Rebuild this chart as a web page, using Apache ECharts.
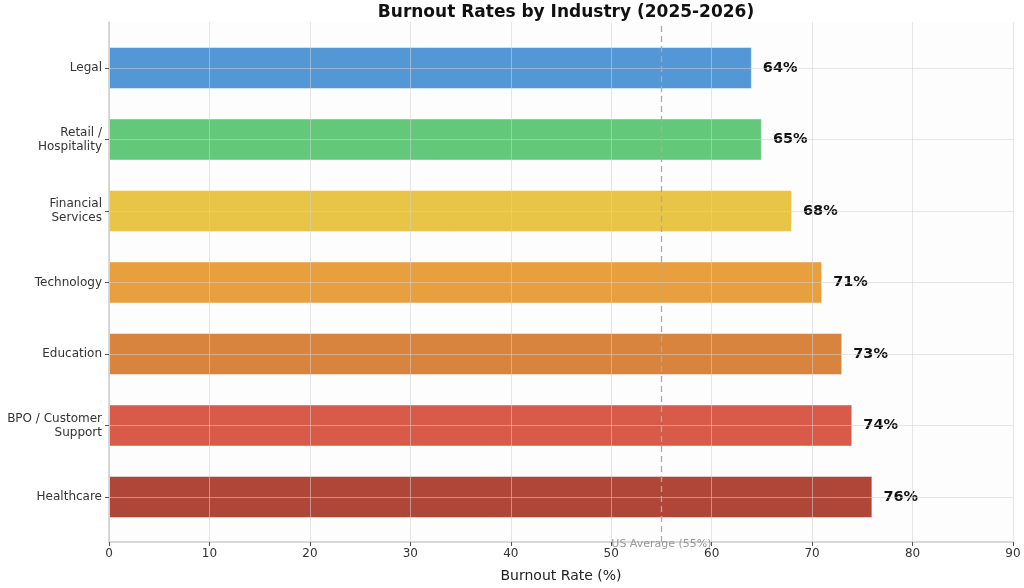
<!DOCTYPE html>
<html>
<head>
<meta charset="utf-8">
<script src="https://cdn.jsdelivr.net/npm/echarts@6/dist/echarts.min.js"></script>
<style>html,body{margin:0;padding:0;background:#fff}#c{width:1024px;height:588px}</style>
</head>
<body>
<div id="c"></div>
<script>
const categories = ['Legal', 'Retail /\nHospitality', 'Financial\nServices', 'Technology', 'Education', 'BPO / Customer\nSupport', 'Healthcare'];
const rates = [64, 65, 68, 71, 73, 74, 76];
const barColors = ['#5397d6', '#64c87a', '#e8c547', '#e8a03f', '#d8843e', '#d85b4a', '#b04638'];
const usAverage = 55;
const xTicks = [0, 10, 20, 30, 40, 50, 60, 70, 80, 90];

const font = 'DejaVu Sans';
const gridColor = 'rgba(210,210,210,0.55)';
const chart = echarts.init(document.getElementById('c'));
chart.setOption({
  backgroundColor: '#fff',
  animation: false,
  textStyle: { fontFamily: font },
  title: {
    text: 'Burnout Rates by Industry (2025-2026)',
    left: 561, top: -1, textAlign: 'center',
    textStyle: { fontFamily: font, fontWeight: 'bold', fontSize: 17, color: '#111' }
  },
  grid: [
    { left: 109, right: 11, top: 68, height: 429 },
    { left: 109, right: 11, top: 22, bottom: 46, show: true, backgroundColor: '#fdfdfd', borderWidth: 0 }
  ],
  xAxis: [
    { type: 'value', gridIndex: 0, min: 0, max: 90, show: false },
    {
      type: 'value', gridIndex: 1, min: xTicks[0], max: xTicks[xTicks.length - 1], interval: 10, z: 3,
      axisLine: { show: true, lineStyle: { color: '#cccccc', width: 1.5 } },
      axisTick: { show: true, length: 4, lineStyle: { color: '#555' } },
      axisLabel: { fontFamily: font, fontSize: 12, color: '#333', margin: 6 },
      splitLine: { show: true, lineStyle: { color: gridColor, width: 1 } },
      name: 'Burnout Rate (%)', nameLocation: 'middle', nameGap: 27,
      nameTextStyle: { fontFamily: font, fontSize: 14, color: '#222' }
    }
  ],
  yAxis: [
    {
      type: 'category', gridIndex: 0, data: categories, inverse: true, boundaryGap: false, z: 3,
      axisLine: { show: false },
      axisTick: { show: true, length: 4, lineStyle: { color: '#555' } },
      axisLabel: { fontFamily: font, fontSize: 12, color: '#333', lineHeight: 14, margin: 7, align: 'right' },
      splitLine: { show: true, lineStyle: { color: gridColor, width: 1 } }
    },
    {
      type: 'value', gridIndex: 1, min: 0, max: 1, z: 3,
      axisLine: { show: true, lineStyle: { color: '#cccccc', width: 1.5 } },
      axisTick: { show: false }, axisLabel: { show: false }, splitLine: { show: false }
    }
  ],
  series: [
    {
      type: 'bar', xAxisIndex: 0, yAxisIndex: 0, barWidth: 42, z: 2,
      data: rates.map((v, i) => ({ value: v, itemStyle: { color: barColors[i] } })),
      itemStyle: { borderColor: 'rgba(255,255,255,0.45)', borderWidth: 1 },
      label: {
        show: true, position: 'right', distance: 11, formatter: '{c}%',
        fontFamily: font, fontWeight: 'bold', fontSize: 14.5, color: '#111'
      }
    },
    {
      type: 'line', xAxisIndex: 1, yAxisIndex: 1, data: [], z: 5,
      markLine: {
        silent: true, symbol: 'none', z: 5,
        lineStyle: { type: [6, 4], color: '#aaaaaa', width: 1.3 },
        label: {
          show: true, position: 'start', distance: -3, formatter: 'US Average (55%)',
          fontFamily: font, fontSize: 11, color: '#999'
        },
        data: [{ xAxis: usAverage }]
      }
    }
  ]
});
</script>
</body>
</html>
